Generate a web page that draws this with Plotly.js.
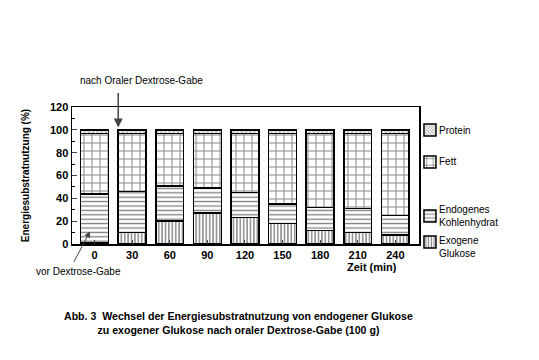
<!DOCTYPE html>
<html><head><meta charset="utf-8">
<script src="https://cdn.plot.ly/plotly-3.0.1.min.js"></script>
<style>html,body{margin:0;padding:0;background:#fff}#c{width:539px;height:360px}</style>
</head><body><div id="c"></div>
<script>
const times = ['0','30','60','90','120','150','180','210','240'];
const exogen = [1,10,20,27,23,18,12,10,8];
const endogen = [43,36,31,22,22,17,20,21,17];
const fett = [53,51,46,48,52,62,65,66,72];
const protein = [3,3,3,3,3,3,3,3,3];
const legendNames = ['Exogene<br>Glukose','Endogenes<br>Kohlenhydrat','Fett','Protein'];
const xs = times.map((t,i)=>i);
const F = 'Arial, "Liberation Sans", sans-serif';
function tr(y,shape,size,sol,leg){
  return {type:'bar',x:xs,y:y,name:' ',width:0.74,legend:leg,
    marker:{color:'#fff',line:{color:'#000',width:1.5},
      pattern:{shape:shape,size:size,solidity:sol,fgcolor:'#000',bgcolor:'#fff',fillmode:'overlay'}},
    hoverinfo:'skip'};
}
const data=[
  tr(exogen,'|',3.4,0.4,'legend4'),
  tr(endogen,'-',4.4,0.3,'legend3'),
  tr(fett,'+',8,0.22,'legend2'),
  tr(protein,'x',3,0.35,'legend')
];
const lg=(y)=>({x:0.974,xanchor:'left',y:y,yanchor:'middle',bgcolor:'rgba(0,0,0,0)',
  font:{family:F,size:10,color:'#000'},itemwidth:30});
const legAnn=(y,t)=>({xref:'paper',yref:'paper',x:1.052,y:y,xanchor:'left',yanchor:'middle',align:'left',
  text:t,showarrow:false,font:{family:F,size:10}});
const layout={
  width:539,height:360,barmode:'stack',showlegend:true,
  margin:{l:72,r:120,t:107,b:116},
  paper_bgcolor:'#fff',plot_bgcolor:'#fff',
  font:{family:F,color:'#000'},
  xaxis:{range:[-0.6,8.63],tickvals:xs,ticktext:times,ticks:'inside',ticklen:4,tickwidth:1,
    showline:true,mirror:true,linecolor:'#000',linewidth:1.5,showgrid:false,zeroline:false,
    tickfont:{family:F,size:11,weight:'bold'}},
  yaxis:{range:[0,120],dtick:20,ticks:'inside',ticklen:5,
    minor:{dtick:10,ticks:'inside',ticklen:3,tickcolor:'#000'},
    showline:true,mirror:true,linecolor:'#000',linewidth:1.5,showgrid:false,zeroline:false,
    tickfont:{family:F,size:11,weight:'bold'},
    title:{text:'Energiesubstratnutzung (%)',font:{family:F,size:10,weight:'bold'},standoff:18}},
  legend:lg(0.832),legend2:lg(0.599),legend3:lg(0.204),legend4:lg(0.015),
  annotations:[
    legAnn(0.832,legendNames[3]),legAnn(0.599,legendNames[2]),
    legAnn(0.204,legendNames[1]),legAnn(-0.022,legendNames[0]),
    {xref:'paper',yref:'paper',x:0.199,y:1.197,xanchor:'center',yanchor:'middle',text:'nach Oraler Dextrose-Gabe',showarrow:false,font:{family:F,size:10}},
    {x:0.63,y:102,xref:'x',yref:'y',ax:0,ay:-36,text:'',showarrow:true,arrowhead:2,arrowsize:1.2,arrowwidth:1.5},
    {xref:'paper',yref:'paper',x:0.02,y:-0.2,xanchor:'center',yanchor:'middle',text:'vor Dextrose-Gabe',showarrow:false,font:{family:F,size:10}},
    {x:-0.12,y:11,xref:'x',yref:'y',ax:-17,ay:32,text:'',showarrow:true,arrowhead:2,arrowsize:1.2,arrowwidth:1},
    {xref:'paper',yref:'paper',x:0.865,y:-0.17,xanchor:'center',yanchor:'middle',text:'Zeit (min)',showarrow:false,font:{family:F,size:11,weight:'bold'}},
    {xref:'paper',yref:'paper',x:0.48,y:-0.58,xanchor:'center',yanchor:'middle',text:'Abb. 3  Wechsel der Energiesubstratnutzung von endogener Glukose<br>zu exogener Glukose nach oraler Dextrose-Gabe (100 g)',
      showarrow:false,align:'center',font:{family:F,size:10.6,weight:'bold'}}
  ]
};
Plotly.newPlot('c',data,layout,{staticPlot:true});
</script></body></html>
